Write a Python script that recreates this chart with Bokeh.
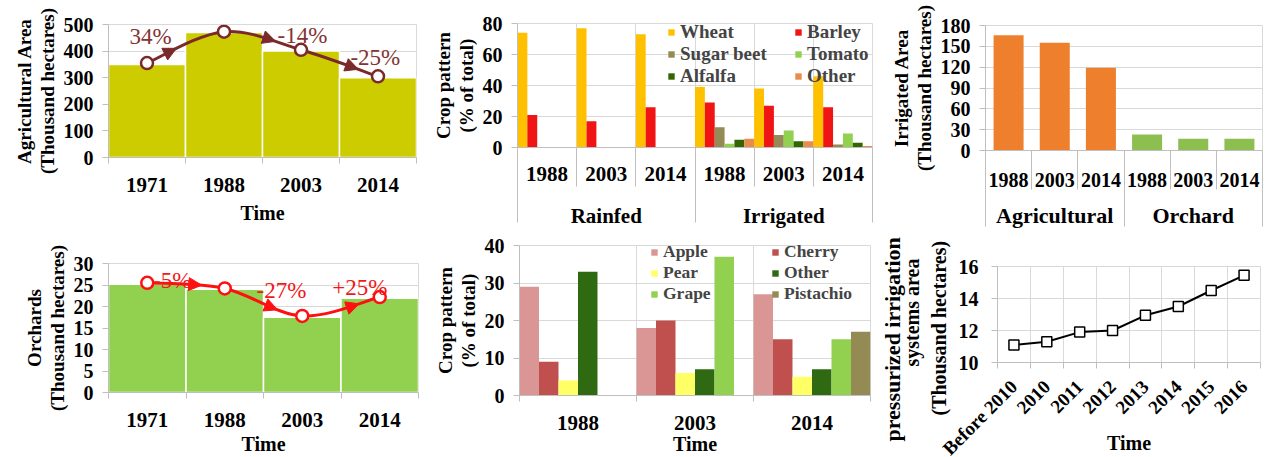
import math
from bokeh.plotting import figure
from bokeh.models import (Range1d, FixedTicker, LinearAxis, Grid, Legend, LegendItem,
                          Arrow, NormalHead, Label, Title)
from bokeh.layouts import row, column
from bokeh.embed import file_html
from bokeh.resources import INLINE

# ---------------- data ----------------
area_years = ["1971", "1988", "2003", "2014"]
agri_area = [350, 470, 400, 300]
agri_trend = [355, 473, 405, 305]
agri_change = ["34%", "-14%", "-25%"]

orchard_area = [25.2, 24.0, 17.5, 21.9]
orchard_trend = [25.5, 24.2, 17.8, 22.2]
orchard_change = ["-5%", "-27%", "+25%"]

crop_groups = ["Rainfed", "Irrigated"]
crop_years = ["1988", "2003", "2014", "1988", "2003", "2014"]
crop_series = ["Wheat", "Barley", "Sugar beet", "Tomato", "Alfalfa", "Other"]
wheat = [74, 77, 73, 39, 38, 46]
barley = [21, 17, 26, 29, 27, 26]
sugar_beet = [0, 0, 0, 13, 8, 2]
tomato = [0, 0, 0, 2.5, 11, 9]
alfalfa = [0, 0, 0, 5, 4, 3]
crop_other = [0, 0, 0, 5.7, 4, 1]

irr_groups = ["Agricultural", "Orchard"]
irr_years = ["1988", "2003", "2014", "1988", "2003", "2014"]
irrigated_area = [166, 155, 119, 23, 17, 17]

fruit_years = ["1988", "2003", "2014"]
fruit_series = ["Apple", "Cherry", "Pear", "Other", "Grape", "Pistachio"]
apple = [29, 18, 27]
cherry = [9, 20, 15]
pear = [4, 6, 5]
fruit_other = [33, 7, 7]
grape = [0, 37, 15]
pistachio = [0, 0, 17]

press_years = ["Before 2010", "2010", "2011", "2012", "2013", "2014", "2015", "2016"]
press_area = [11.1, 11.3, 11.9, 12.0, 12.95, 13.5, 14.5, 15.45]
press_title = ["pressurized irrigation", "systems area", "(Thousand hectares)"]

# ---------------- style ----------------
FONT = "Liberation Serif"
GRID = "#D9D9D9"
AXIS_C = "#BFBFBF"
TICK_FS = "21px"
TITLE_FS = "19px"


def base_fig(width, height, n_cats, yr, borders):
    left, right, top, bottom = borders
    p = figure(width=width, height=height,
               x_range=Range1d(-0.5, n_cats - 0.5), y_range=Range1d(*yr),
               x_axis_type=None, y_axis_type=None,
               output_backend="svg", toolbar_location=None,
               min_border_left=left, min_border_right=right,
               min_border_top=top, min_border_bottom=bottom)
    p.frame_align = False
    p.outline_line_color = GRID
    p.background_fill_color = "white"
    p.border_fill_color = "white"
    return p


def add_y_axis(p, ticks, title=None, standoff=9, title_standoff=3, fs="20px"):
    ax = LinearAxis(ticker=FixedTicker(ticks=ticks),
                    axis_line_color=AXIS_C, major_tick_line_color=AXIS_C,
                    major_tick_out=6, major_tick_in=0,
                    minor_tick_out=0, minor_tick_in=0,
                    major_label_standoff=standoff,
                    major_label_text_font=FONT, major_label_text_font_style="bold",
                    major_label_text_font_size=fs, major_label_text_color="black")
    if title:
        ax.axis_label = title
        ax.axis_label_standoff = title_standoff
        ax.axis_label_text_font = FONT
        ax.axis_label_text_font_style = "bold"
        ax.axis_label_text_font_size = TITLE_FS
        ax.axis_label_text_color = "black"
        ax.axis_label_text_line_height = 1.05
    p.add_layout(ax, "left")
    p.add_layout(Grid(dimension=1, ticker=FixedTicker(ticks=ticks),
                      grid_line_color=GRID), "center")


def add_x_axis(p, labels, centers, bounds, tick_len, standoff, title=None,
               fs=TICK_FS, line=True, orientation="horizontal", title_standoff=4):
    ax = LinearAxis(ticker=FixedTicker(ticks=centers, minor_ticks=bounds),
                    major_label_overrides={c: lab for c, lab in zip(centers, labels)},
                    axis_line_color=AXIS_C if line else None,
                    major_tick_out=0, major_tick_in=0, major_tick_line_color=None,
                    minor_tick_out=tick_len, minor_tick_in=0,
                    minor_tick_line_color=AXIS_C,
                    major_label_standoff=standoff,
                    major_label_orientation=orientation,
                    major_label_text_font=FONT, major_label_text_font_style="bold",
                    major_label_text_font_size=fs, major_label_text_color="black")
    if title:
        ax.axis_label = title
        ax.axis_label_standoff = title_standoff
        ax.axis_label_text_font = FONT
        ax.axis_label_text_font_style = "bold"
        ax.axis_label_text_font_size = "20px"
        ax.axis_label_text_color = "black"
    p.add_layout(ax, "below")
    return ax


def catmull_rom(xs, ys):
    n = len(xs)
    segs = []
    for i in range(n - 1):
        a, b = max(i - 1, 0), min(i + 2, n - 1)
        segs.append(dict(
            x0=xs[i], y0=ys[i], x1=xs[i + 1], y1=ys[i + 1],
            cx0=xs[i] + (xs[i + 1] - xs[a]) / 6, cy0=ys[i] + (ys[i + 1] - ys[a]) / 6,
            cx1=xs[i + 1] - (xs[b] - xs[i]) / 6, cy1=ys[i + 1] - (ys[b] - ys[i]) / 6))
    return segs


def bez_point(s, t):
    u = 1 - t
    x = u**3 * s["x0"] + 3 * u * u * t * s["cx0"] + 3 * u * t * t * s["cx1"] + t**3 * s["x1"]
    y = u**3 * s["y0"] + 3 * u * u * t * s["cy0"] + 3 * u * t * t * s["cy1"] + t**3 * s["y1"]
    return x, y


def trend_line(p, values, changes, color, text_color, arrow_t, label_off, lw=3):
    xs = list(range(len(values)))
    segs = catmull_rom(xs, values)
    p.bezier(x0=[s["x0"] for s in segs], y0=[s["y0"] for s in segs],
             x1=[s["x1"] for s in segs], y1=[s["y1"] for s in segs],
             cx0=[s["cx0"] for s in segs], cy0=[s["cy0"] for s in segs],
             cx1=[s["cx1"] for s in segs], cy1=[s["cy1"] for s in segs],
             line_color=color, line_width=lw)
    for s, t in zip(segs, arrow_t):
        xa, ya = bez_point(s, t - 0.04)
        xb, yb = bez_point(s, t)
        p.add_layout(Arrow(end=NormalHead(size=13, fill_color=color, line_color=color),
                           x_start=xa, y_start=ya, x_end=xb, y_end=yb,
                           line_color=color, line_width=lw))
    p.scatter(xs, values, marker="circle", size=12, fill_color="white",
              line_color=color, line_width=2.5)
    for s, txt, (dx, dy) in zip(segs, changes, label_off):
        mx, my = bez_point(s, 0.5)
        p.add_layout(Label(x=mx, y=my, x_offset=dx, y_offset=dy, text=txt,
                           text_align="center", text_baseline="middle",
                           text_font=FONT, text_font_size="23px",
                           text_color=text_color))


def side_legend(p, entries, x, y, fs, row_h, spacing):
    lg = Legend(items=[LegendItem(label=lab, renderers=[r]) for lab, r in entries],
                location=(x, y), orientation="vertical",
                background_fill_alpha=0, border_line_alpha=0,
                padding=0, margin=0, spacing=spacing,
                glyph_width=8, glyph_height=8, label_standoff=5,
                label_height=row_h, label_text_font=FONT,
                label_text_font_style="bold", label_text_font_size=fs,
                label_text_line_height=1.0)
    p.add_layout(lg, "center")


# ---------------- panel: agricultural area ----------------
n = len(area_years)
pa = base_fig(420, 230, n, (0, 500), (108, 4, 24, 73))
add_y_axis(pa, list(range(0, 501, 100)), "Agricultural Area\n(Thousand hectares)")
add_x_axis(pa, area_years, list(range(n)), [i - 0.5 for i in range(n + 1)], 6, 14,
           title="Time", title_standoff=7)
pa.vbar(x=list(range(n)), top=agri_area, width=1.0, fill_color="#CCCC00",
        line_color="white", line_width=1.5)
trend_line(pa, agri_trend, agri_change, "#7A2A2A", "#843434",
           [0.45, 0.67, 0.67], [(-30, 10), (40, 2), (31, 7)])

# ---------------- panel: crop pattern ----------------
n = len(crop_years)
pb = base_fig(460, 230, n, (0, 80), (97, 8, 23, 79))
add_y_axis(pb, list(range(0, 81, 20)), "Crop pattern\n(% of total)")
pb.add_layout(Grid(dimension=0, ticker=FixedTicker(ticks=[i - 0.5 for i in range(n + 1)]),
                   grid_line_color=GRID), "center")
add_x_axis(pb, crop_years, list(range(n)), [i - 0.5 for i in range(n + 1)], 39, -20)
g = len(crop_groups)
per = n // g
add_x_axis(pb, crop_groups, [k * per + (per - 1) / 2 for k in range(g)],
           [k * per - 0.5 for k in range(g + 1)], 39, -19, line=False)
crop_colors = ["#FFC000", "#F01414", "#948A54", "#92D050", "#336600", "#E88B4C"]
crop_values = [wheat, barley, sugar_beet, tomato, alfalfa, crop_other]
rb = []
m = len(crop_series)
for j, (vals, col) in enumerate(zip(crop_values, crop_colors)):
    rb.append(pb.vbar(x=[i + (j - (m - 1) / 2) / m for i in range(n)], top=vals,
                      width=1 / m, fill_color=col, line_color=None))
side_legend(pb, [(crop_series[k], rb[k]) for k in (0, 2, 4)], 150, 60, "19px", 21, -1)
side_legend(pb, [(crop_series[k], rb[k]) for k in (1, 3, 5)], 277, 60, "19px", 21, -1)

# ---------------- panel: irrigated area ----------------
n = len(irr_years)
pc = base_fig(386, 230, n, (0, 180), (105, 4, 25, 79))
add_y_axis(pc, list(range(0, 181, 30)), "Irrigated Area\n(Thousand hectares)")
add_x_axis(pc, irr_years, list(range(n)), [i - 0.5 for i in range(n + 1)], 39, -17,
           fs="20px")
g = len(irr_groups)
per = n // g
add_x_axis(pc, irr_groups, [k * per + (per - 1) / 2 for k in range(g)],
           [k * per - 0.5 for k in range(g + 1)], 37, -24, line=False, fs="22px")
group_colors = ["#EE7F2D", "#8DBE50"]
pc.vbar(x=list(range(n)), top=irrigated_area, width=0.65,
        fill_color=[group_colors[i // per] for i in range(n)], line_color=None)

# ---------------- panel: orchards ----------------
n = len(area_years)
pd_ = base_fig(420, 227, n, (0, 30), (108, 2, 33, 64))
add_y_axis(pd_, list(range(0, 31, 5)), "Orchards\n(Thousand hectares)")
add_x_axis(pd_, area_years, list(range(n)), [i - 0.5 for i in range(n + 1)], 6, 14,
           title="Time", title_standoff=3)
pd_.vbar(x=list(range(n)), top=orchard_area, width=1.0, fill_color="#92D050",
         line_color="white", line_width=1.5)
trend_line(pd_, orchard_trend, orchard_change, "#FF1010", "#F01818",
           [0.73, 0.68, 0.66], [(-9, 3), (18, 13), (14, 21)])

# ---------------- panel: orchard crop pattern ----------------
n = len(fruit_years)
pe = base_fig(460, 227, n, (0, 40), (99, 10, 15, 61))
add_y_axis(pe, list(range(0, 41, 10)), "Crop pattern\n(% of total)")
pe.add_layout(Grid(dimension=0, ticker=FixedTicker(ticks=[i - 0.5 for i in range(n + 1)]),
                   grid_line_color=GRID), "center")
add_x_axis(pe, fruit_years, list(range(n)), [i - 0.5 for i in range(n + 1)], 6, 14,
           title="Time", title_standoff=0)
fruit_colors = ["#DA9694", "#C0504D", "#FFFF66", "#2F6A12", "#92D050", "#948A54"]
fruit_values = [apple, cherry, pear, fruit_other, grape, pistachio]
re = []
m = len(fruit_series)
for j, (vals, col) in enumerate(zip(fruit_values, fruit_colors)):
    re.append(pe.vbar(x=[i + (j - (m - 1) / 2) / m for i in range(n)], top=vals,
                      width=1 / m, fill_color=col, line_color=None))
side_legend(pe, [(fruit_series[k], re[k]) for k in (0, 2, 4)], 131, 91, "17.5px", 19, 0)
side_legend(pe, [(fruit_series[k], re[k]) for k in (1, 3, 5)], 252, 91, "17.5px", 19, 0)

# ---------------- panel: pressurized irrigation ----------------
n = len(press_years)
pf = base_fig(386, 227, n, (10, 16), (115, 6, 36, 93))
add_y_axis(pf, list(range(10, 17, 2)), standoff=13)
# title lines, innermost first: (font size, start offset below the frame, standoff)
title_style = [("22px", -79, -6), ("20px", -4, -6), ("20px", -53, 12)]
for txt, (fs, off, gap) in zip(reversed(press_title), reversed(title_style)):
    pf.add_layout(Title(text=txt, align="left", offset=off, standoff=gap,
                        text_font=FONT, text_font_style="bold", text_font_size=fs,
                        text_color="black", text_line_height=0.95), "left")
pf.add_layout(Grid(dimension=0, ticker=FixedTicker(ticks=[i - 0.5 for i in range(n + 1)]),
                   grid_line_color=GRID), "center")
add_x_axis(pf, press_years, list(range(n)), [i - 0.5 for i in range(n + 1)], 6, 15,
           title="Time", fs="19px", orientation=math.pi / 4, title_standoff=-37)
pf.line(list(range(n)), press_area, line_color="black", line_width=2)
pf.scatter(list(range(n)), press_area, marker="square", size=10, fill_color="white",
           line_color="black", line_width=1.5)

layout = column(row(pa, pb, pc), row(pd_, pe, pf))
open("out.html", "w").write(file_html(layout, INLINE))
